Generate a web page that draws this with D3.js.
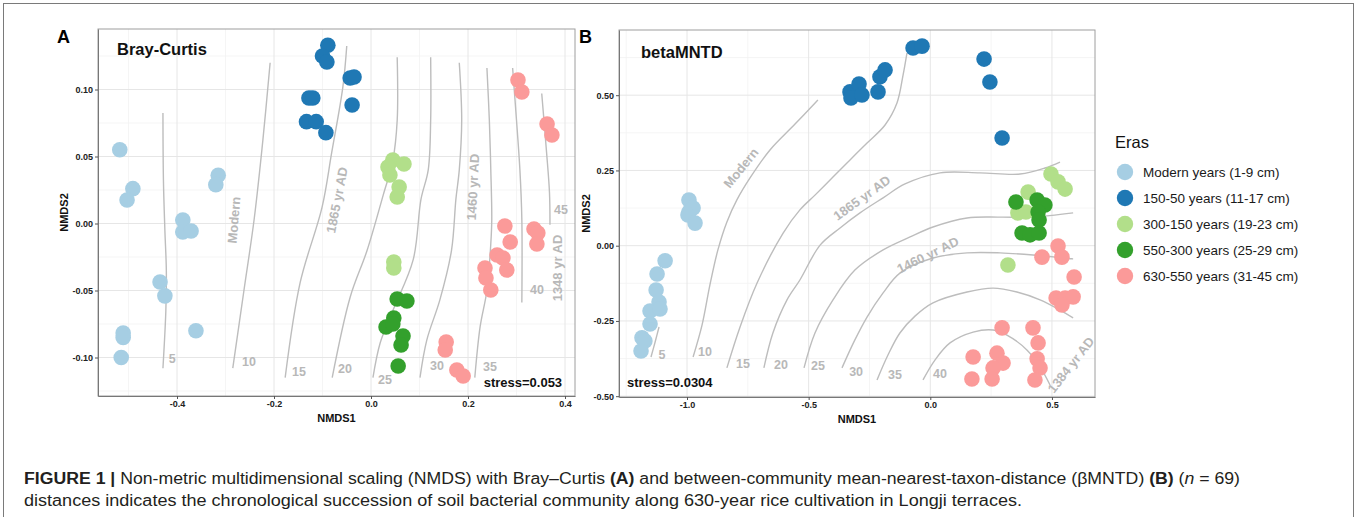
<!DOCTYPE html>
<html>
<head>
<meta charset="utf-8">
<script src="https://cdn.jsdelivr.net/npm/d3@7"></script>
<style>
  body { margin: 0; background: #fff; }
  svg { display: block; font-family: "Liberation Sans", Arial, sans-serif; }
</style>
</head>
<body>
<svg id="fig" width="1358" height="517"></svg>
<script>
// legend
const eraNames = ["Modern years (1-9 cm)", "150-50 years (11-17 cm)", "300-150 years (19-23 cm)",
  "550-300 years (25-29 cm)", "630-550 years (31-45 cm)"];
const eraColors = ["#a6cee3", "#1f78b4", "#b2df8a", "#33a02c", "#fb9a99"];

// ---- panel A : Bray-Curtis ----
const bcXTicks = [-0.4, -0.2, 0, 0.2, 0.4];
const bcYTicks = [-0.1, -0.05, 0, 0.05, 0.1];
const bcXMinor = [-0.5, -0.3, -0.1, 0.1, 0.3];
const bcYMinor = [-0.125, -0.075, -0.025, 0.025, 0.075, 0.125];

const bcModern = [[-0.518, 0.055], [-0.491, 0.026], [-0.503, 0.0175], [-0.315, 0.036], [-0.320, 0.029],
  [-0.388, 0.0026], [-0.388, -0.0063], [-0.371, -0.0056], [-0.435, -0.0437], [-0.425, -0.054],
  [-0.361, -0.080], [-0.511, -0.0817], [-0.511, -0.085], [-0.515, -0.100]];
const bcEra150 = [[-0.089, 0.133], [-0.100, 0.125], [-0.091, 0.1205], [-0.043, 0.1086], [-0.035, 0.1093],
  [-0.039, 0.0884], [-0.128, 0.0937], [-0.120, 0.0937], [-0.133, 0.076], [-0.113, 0.076], [-0.093, 0.0678]];
const bcEra300 = [[0.045, 0.0474], [0.068, 0.0444], [0.035, 0.0422], [0.039, 0.0362], [0.058, 0.0272],
  [0.054, 0.0198], [0.047, -0.0287], [0.047, -0.0332]];
const bcEra550 = [[0.054, -0.0563], [0.074, -0.0578], [0.047, -0.0705], [0.031, -0.0772], [0.045, -0.075],
  [0.066, -0.084], [0.062, -0.0907], [0.056, -0.1063]];
const bcEra630 = [[0.303, 0.1071], [0.311, 0.0981], [0.363, 0.0743], [0.373, 0.066], [0.276, -0.0019],
  [0.287, -0.0138], [0.336, -0.0041], [0.344, -0.0071], [0.342, -0.0153], [0.260, -0.0235], [0.272, -0.0257],
  [0.280, -0.0347], [0.235, -0.0332], [0.237, -0.0407], [0.247, -0.0496], [0.155, -0.0884], [0.153, -0.0944],
  [0.177, -0.1093], [0.190, -0.1138]];

// ordisurf contours (depth, cm)
const bcIso5 = [[-0.429, 0.0825], [-0.428, 0.0325], [-0.425, -0.005], [-0.422, -0.035], [-0.423, -0.065], [-0.429, -0.108]];
const bcIso10 = [[-0.208, 0.120], [-0.223, 0.062], [-0.241, 0.003], [-0.262, -0.050], [-0.285, -0.108]];
const bcIso15 = [[-0.050, 0.1325], [-0.058, 0.102], [-0.081, 0.053], [-0.101, 0.012], [-0.146, -0.044], [-0.177, -0.115]];
const bcIso20 = [[0.054, 0.124], [0.054, 0.077], [0.045, 0.047], [0.025, 0.021], [-0.008, -0.020], [-0.043, -0.055], [-0.080, -0.115]];
const bcIso25 = [[0.123, 0.124], [0.123, 0.077], [0.118, 0.040], [0.103, 0.018], [0.087, -0.027], [0.045, -0.065], [0.019, -0.089], [0.004, -0.115]];
const bcIso30 = [[0.182, 0.120], [0.187, 0.077], [0.182, 0.040], [0.175, 0.018], [0.166, -0.020], [0.142, -0.057], [0.115, -0.087], [0.101, -0.115]];
const bcIso35 = [[0.239, 0.116], [0.244, 0.077], [0.247, 0.040], [0.249, 0.003], [0.247, -0.015], [0.239, -0.050], [0.225, -0.077], [0.214, -0.115]];
const bcIso40 = [[0.292, 0.116], [0.300, 0.077], [0.307, 0.040], [0.311, 0.003], [0.311, -0.059]];
const bcIso45 = [[0.352, 0.097], [0.362, 0.053], [0.368, 0.023], [0.369, -0.001]];
const bcIsoLabels = [["5", -0.410, -0.101], ["10", -0.2515, -0.1034], ["15", -0.1485, -0.1108], ["20", -0.0536, -0.1086],
  ["25", 0.0289, -0.1168], ["30", 0.136, -0.1063], ["35", 0.2454, -0.1071], ["40", 0.3423, -0.0496], ["45", 0.3918, 0.0101]];
const bcNotes = [["Modern", -0.2825, 0.0026, -85], ["1865 yr AD", -0.0701, 0.0175, -79],
  ["1460 yr AD", 0.2103, 0.0272, -87], ["1348 yr AD", 0.3835, -0.0332, -90]];
const bcStress = ["stress=0.053", 0.394, -0.119];

// ---- panel B : betaMNTD ----
const mntdXTicks = [-1.0, -0.5, 0, 0.5];
const mntdYTicks = [-0.5, -0.25, 0, 0.25, 0.5];
const mntdXMinor = [-1.25, -0.75, -0.25, 0.25];
const mntdYMinor = [-0.375, -0.125, 0.125, 0.375, 0.625];

const mntdModern = [[-0.992, 0.152], [-0.992, 0.112], [-0.975, 0.125], [-0.996, 0.102], [-0.967, 0.075],
  [-1.090, -0.050], [-1.123, -0.094], [-1.127, -0.147], [-1.115, -0.187], [-1.152, -0.217], [-1.111, -0.210],
  [-1.152, -0.260], [-1.185, -0.306], [-1.173, -0.317], [-1.189, -0.350]];
const mntdEra150 = [[-0.071, 0.657], [-0.034, 0.663], [-0.330, 0.511], [-0.293, 0.537], [-0.326, 0.491],
  [-0.281, 0.501], [-0.215, 0.511], [-0.207, 0.561], [-0.186, 0.584], [0.221, 0.620], [0.245, 0.544], [0.295, 0.358]];
const mntdEra300 = [[0.496, 0.238], [0.525, 0.212], [0.554, 0.188], [0.402, 0.178], [0.360, 0.109],
  [0.393, 0.112], [0.319, -0.064]];
const mntdEra550 = [[0.352, 0.145], [0.439, 0.152], [0.471, 0.135], [0.443, 0.112], [0.447, 0.085],
  [0.377, 0.042], [0.410, 0.036], [0.447, 0.042]];
const mntdEra630 = [[0.459, -0.038], [0.525, -0.001], [0.541, -0.038], [0.591, -0.104], [0.517, -0.174],
  [0.554, -0.174], [0.587, -0.170], [0.541, -0.197], [0.295, -0.273], [0.422, -0.273], [0.443, -0.323],
  [0.176, -0.370], [0.274, -0.357], [0.299, -0.390], [0.258, -0.406], [0.439, -0.376], [0.451, -0.406],
  [0.171, -0.443], [0.254, -0.443], [0.430, -0.446]];

const mntdIso5 = [[-1.115, -0.270], [-1.131, -0.320], [-1.148, -0.370]];
const mntdIso10 = [[-0.462, 0.484], [-0.556, 0.404], [-0.659, 0.318], [-0.741, 0.225], [-0.795, 0.152],
  [-0.836, 0.079], [-0.873, -0.014], [-0.906, -0.131], [-0.938, -0.263], [-0.975, -0.370]];
const mntdIso15 = [[-0.096, 0.640], [-0.112, 0.567], [-0.137, 0.474], [-0.186, 0.401], [-0.260, 0.341],
  [-0.330, 0.285], [-0.400, 0.228], [-0.474, 0.168], [-0.536, 0.119], [-0.605, 0.042], [-0.712, -0.124],
  [-0.782, -0.270], [-0.836, -0.406]];
const mntdIso20 = [[-0.684, -0.406], [-0.647, -0.290], [-0.589, -0.180], [-0.536, -0.114], [-0.453, 0.002],
  [-0.371, 0.059], [-0.289, 0.109], [-0.194, 0.159], [-0.104, 0.205], [0.040, 0.242], [0.204, 0.242],
  [0.369, 0.238], [0.471, 0.258], [0.533, 0.278]];
const mntdIso25 = [[-0.519, -0.406], [-0.474, -0.290], [-0.400, -0.180], [-0.310, -0.081], [-0.194, -0.014],
  [-0.083, 0.029], [0.011, 0.062], [0.151, 0.092], [0.287, 0.095], [0.422, 0.095], [0.587, 0.109]];
const mntdIso30 = [[-0.363, -0.406], [-0.310, -0.313], [-0.260, -0.237], [-0.194, -0.157], [-0.125, -0.091],
  [0.011, -0.041], [0.151, -0.024], [0.287, -0.024], [0.422, -0.031], [0.587, -0.044]];
const mntdIso35 = [[-0.219, -0.446], [-0.174, -0.363], [-0.125, -0.290], [-0.063, -0.234], [0.011, -0.190],
  [0.151, -0.154], [0.258, -0.141], [0.356, -0.154], [0.451, -0.180], [0.533, -0.214], [0.587, -0.240]];
const mntdIso40 = [[-0.030, -0.446], [0.019, -0.380], [0.081, -0.323], [0.176, -0.287], [0.258, -0.280],
  [0.315, -0.297], [0.398, -0.347], [0.451, -0.403], [0.492, -0.463]];
const mntdIsoLabels = [["5", -1.103, -0.363], ["10", -0.926, -0.353], ["15", -0.770, -0.393], ["20", -0.614, -0.396],
  ["25", -0.462, -0.400], ["30", -0.305, -0.420], ["35", -0.145, -0.430], ["40", 0.040, -0.426]];
const mntdNotes = [["Modern", -0.778, 0.258, -51], ["1865 yr AD", -0.281, 0.159, -36],
  ["1460 yr AD", -0.010, -0.031, -26], ["1384 yr AD", 0.578, -0.396, -52]];
const mntdStress = ["stress=0.0304", -1.247, -0.453];

const svg = d3.select("#fig");

// outer figure frame
svg.append("rect").attr("x", 3.5).attr("y", 3.5).attr("width", 1350).attr("height", 600)
  .attr("fill", "none").attr("stroke", "#7a7a7a").attr("stroke-width", 1);

function drawPanel(p) {
  const g = svg.append("g");
  const x = d3.scaleLinear().domain(p.xDomain).range([p.left, p.left + p.width]);
  const y = d3.scaleLinear().domain(p.yDomain).range([p.top + p.height, p.top]);
  const x0 = p.left, x1 = p.left + p.width, y0 = p.top, y1 = p.top + p.height;

  // grid
  g.selectAll(null).data(p.xMinor).join("line")
    .attr("x1", d => x(d)).attr("x2", d => x(d)).attr("y1", y0).attr("y2", y1)
    .attr("stroke", "#f2f2f2").attr("stroke-width", 0.8);
  g.selectAll(null).data(p.yMinor).join("line")
    .attr("y1", d => y(d)).attr("y2", d => y(d)).attr("x1", x0).attr("x2", x1)
    .attr("stroke", "#f2f2f2").attr("stroke-width", 0.8);
  g.selectAll(null).data(p.xTicks).join("line")
    .attr("x1", d => x(d)).attr("x2", d => x(d)).attr("y1", y0).attr("y2", y1)
    .attr("stroke", "#e6e6e6").attr("stroke-width", 1);
  g.selectAll(null).data(p.yTicks).join("line")
    .attr("y1", d => y(d)).attr("y2", d => y(d)).attr("x1", x0).attr("x2", x1)
    .attr("stroke", "#e6e6e6").attr("stroke-width", 1);

  // contour lines
  const line = d3.line().x(d => x(d[0])).y(d => y(d[1])).curve(d3.curveCatmullRom.alpha(0.5));
  g.selectAll(null).data(p.isolines).join("path")
    .attr("d", line).attr("fill", "none").attr("stroke", "#bdbdbd").attr("stroke-width", 1.4);

  g.selectAll(null).data(p.isoLabels).join("text")
    .attr("x", d => x(d[1])).attr("y", d => y(d[2]))
    .attr("text-anchor", "middle").attr("dominant-baseline", "central")
    .attr("font-size", 12.5).attr("font-weight", "bold").attr("fill", "#b8b8b8")
    .text(d => d[0]);

  g.selectAll(null).data(p.notes).join("text")
    .attr("transform", d => `translate(${x(d[1])},${y(d[2])}) rotate(${d[3]})`)
    .attr("text-anchor", "middle").attr("dominant-baseline", "central")
    .attr("font-size", 13).attr("font-weight", "bold").attr("fill", "#b8b8b8")
    .text(d => d[0]);

  // points, one group per era
  p.groups.forEach((pts, i) => {
    g.selectAll(null).data(pts).join("circle")
      .attr("cx", d => x(d[0])).attr("cy", d => y(d[1])).attr("r", 7.8)
      .attr("fill", eraColors[i]);
  });

  // panel border
  g.append("rect").attr("x", x0).attr("y", y0).attr("width", p.width).attr("height", p.height)
    .attr("fill", "none").attr("stroke", "#9e9e9e").attr("stroke-width", 1);

  // axes
  const ax = g.append("g").attr("transform", `translate(0,${y1})`)
    .call(d3.axisBottom(x).tickValues(p.xTicks).tickFormat(d => d.toFixed(1)).tickSize(3).tickSizeOuter(0).tickPadding(2));
  const ay = g.append("g").attr("transform", `translate(${x0},0)`)
    .call(d3.axisLeft(y).tickValues(p.yTicks).tickFormat(d => d.toFixed(2)).tickSize(3).tickSizeOuter(0).tickPadding(2));
  [ax, ay].forEach(a => {
    a.select(".domain").attr("stroke", "#777");
    a.selectAll(".tick line").attr("stroke", "#555");
    a.selectAll(".tick text").attr("font-size", 9).attr("font-weight", "bold").attr("fill", "#222")
      .attr("font-family", "Liberation Sans, Arial, sans-serif");
  });

  g.append("text").attr("x", (x0 + x1) / 2).attr("y", y1 + 26).attr("text-anchor", "middle")
    .attr("font-size", 11).attr("font-weight", "bold").attr("fill", "#111").text("NMDS1");
  g.append("text").attr("transform", `translate(${p.yTitleX},${(y0 + y1) / 2}) rotate(-90)`)
    .attr("text-anchor", "middle").attr("font-size", 11).attr("font-weight", "bold").attr("fill", "#111").text("NMDS2");

  // stress
  g.append("text").attr("x", x(p.stress[1])).attr("y", y(p.stress[2]))
    .attr("text-anchor", p.stressAnchor).attr("dominant-baseline", "central")
    .attr("font-size", 13).attr("font-weight", "bold").attr("fill", "#111").text(p.stress[0]);

  // title and panel letter
  g.append("text").attr("x", p.titleX).attr("y", p.titleY)
    .attr("font-size", 16.5).attr("font-weight", "bold").attr("fill", "#111").text(p.title);
  g.append("text").attr("x", p.letterX).attr("y", 43)
    .attr("font-size", 18).attr("font-weight", "bold").attr("fill", "#000").text(p.letter);
}

drawPanel({
  left: 98, top: 29, width: 477, height: 367,
  xDomain: [-0.5629, 0.4206], yDomain: [-0.12873, 0.14515],
  xTicks: bcXTicks, yTicks: bcYTicks, xMinor: bcXMinor, yMinor: bcYMinor,
  groups: [bcModern, bcEra150, bcEra300, bcEra550, bcEra630],
  isolines: [bcIso5, bcIso10, bcIso15, bcIso20, bcIso25, bcIso30, bcIso35, bcIso40, bcIso45],
  isoLabels: bcIsoLabels, notes: bcNotes, stress: bcStress, stressAnchor: "end",
  title: "Bray-Curtis", titleX: 117, titleY: 55, letter: "A", letterX: 57, yTitleX: 68
});

drawPanel({
  left: 619, top: 30, width: 476, height: 367,
  xDomain: [-1.2795, 0.6769], yDomain: [-0.5027, 0.7166],
  xTicks: mntdXTicks, yTicks: mntdYTicks, xMinor: mntdXMinor, yMinor: mntdYMinor,
  groups: [mntdModern, mntdEra150, mntdEra300, mntdEra550, mntdEra630],
  isolines: [mntdIso5, mntdIso10, mntdIso15, mntdIso20, mntdIso25, mntdIso30, mntdIso35, mntdIso40],
  isoLabels: mntdIsoLabels, notes: mntdNotes, stress: mntdStress, stressAnchor: "start",
  title: "betaMNTD", titleX: 641, titleY: 58, letter: "B", letterX: 579, yTitleX: 590
});

// legend
const legend = svg.append("g").attr("transform", "translate(1115,0)");
legend.append("text").attr("x", 0).attr("y", 148).attr("font-size", 16.5).attr("fill", "#111").text("Eras");
const item = legend.selectAll("g.item").data(eraNames).join("g")
  .attr("transform", (d, i) => `translate(0,${172 + i * 26})`);
item.append("circle").attr("cx", 10).attr("cy", 0).attr("r", 8.2).attr("fill", (d, i) => eraColors[i]);
item.append("text").attr("x", 28).attr("y", 0).attr("dominant-baseline", "central")
  .attr("font-size", 13.5).attr("fill", "#1a1a1a").text(d => d);

// caption
const cap = svg.append("g").attr("font-family", "'Liberation Sans Narrow', 'Arial Narrow', sans-serif")
  .attr("font-size", 16).attr("fill", "#231f20");
const l1 = cap.append("text").attr("x", 24).attr("y", 484).attr("textLength", 1216).attr("lengthAdjust", "spacingAndGlyphs");
l1.append("tspan").attr("font-weight", "bold").text("FIGURE 1 | ");
l1.append("tspan").text("Non-metric multidimensional scaling (NMDS) with Bray–Curtis ");
l1.append("tspan").attr("font-weight", "bold").text("(A)");
l1.append("tspan").text(" and between-community mean-nearest-taxon-distance (βMNTD) ");
l1.append("tspan").attr("font-weight", "bold").text("(B)");
l1.append("tspan").text(" (");
l1.append("tspan").attr("font-style", "italic").text("n");
l1.append("tspan").text(" = 69)");
cap.append("text").attr("x", 24).attr("y", 506).attr("textLength", 998).attr("lengthAdjust", "spacingAndGlyphs")
  .text("distances indicates the chronological succession of soil bacterial community along 630-year rice cultivation in Longji terraces.");
</script>
</body>
</html>
